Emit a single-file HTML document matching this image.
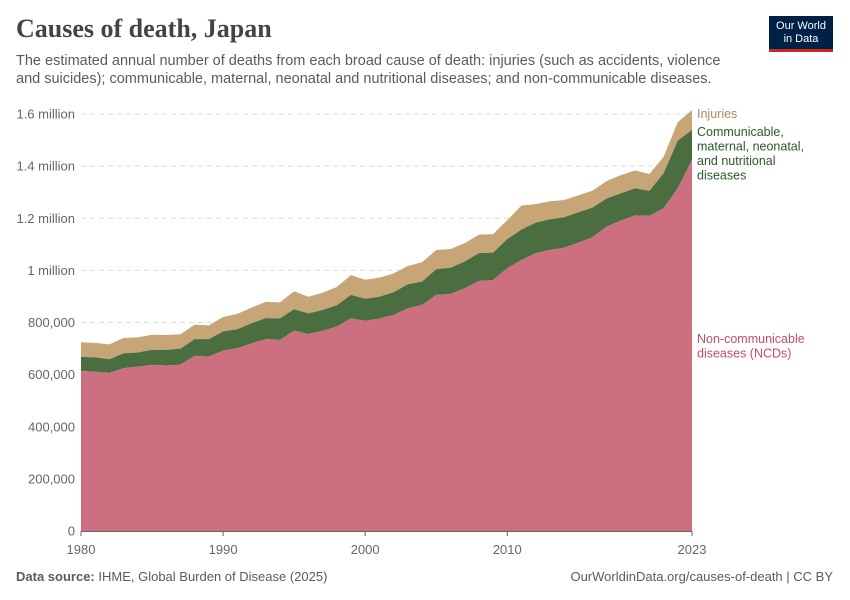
<!DOCTYPE html>
<html><head><meta charset="utf-8"><style>
body{margin:0;background:#fff;font-family:"Liberation Sans",sans-serif;}
#wrap{position:relative;width:850px;height:600px;overflow:hidden;}
.t{position:absolute;white-space:nowrap;}
</style></head><body>
<div id="wrap">
<div class="t" style="left:16px;top:14px;font-family:'Liberation Serif',serif;font-size:26px;font-weight:bold;color:#444;">Causes of death, Japan</div>
<div class="t" style="left:16px;top:52px;font-size:14.5px;line-height:18px;color:#5b5b5b;white-space:normal;width:720px;">The estimated annual number of deaths from each broad cause of death: injuries (such as accidents, violence and suicides); communicable, maternal, neonatal and nutritional diseases; and non-communicable diseases.</div>
<div style="position:absolute;left:769px;top:16px;width:64px;height:36px;background:#002147;border-bottom:3px solid #ce261e;box-sizing:border-box;color:#fff;font-size:11px;line-height:13px;text-align:center;padding-top:4px;">Our World<br>in Data</div>
<svg id="chart" width="850" height="600" style="position:absolute;left:0;top:0"></svg>
<div class="t" style="left:16px;top:569px;font-size:13px;color:#5b5b5b;"><b>Data source:</b> IHME, Global Burden of Disease (2025)</div>
<div class="t" style="right:17px;top:569px;font-size:13px;color:#5b5b5b;">OurWorldinData.org/causes-of-death | CC BY</div>
</div>
<script>
const years=[];for(let y=1980;y<=2023;y++)years.push(y);
const ncd=[614,611,606,625,630,637,635,638,672,669,692,701,720,736,733,769,756,768,784,816,806,815,829,854,867,906,909,931,959,963,1008,1040,1066,1078,1087,1106,1127,1168,1191,1211,1209,1238,1315,1424];
const communicable=[54,55,53,57,55,58,60,62,64,67,74,73,77,81,83,82,79,80,82,90,85,84,87,93,90,99,101,103,107,105,112,117,117,118,117,117,114,108,105,104,96,134,183,115];
const injuries=[56,56,57,59,58,58,57,55,56,53,55,59,60,62,61,69,64,66,70,76,73,73,72,70,74,73,72,70,71,71,73,92,71,69,66,65,65,67,70,68,65,64,71,76];
const yTicks=[0,200,400,600,800,1000,1200,1400,1600];
const yTickLabels=["0","200,000","400,000","600,000","800,000","1 million","1.2 million","1.4 million","1.6 million"];
const xTicks=[1980,1990,2000,2010,2023];

const svg=document.getElementById('chart');const NS='http://www.w3.org/2000/svg';
const x0=81,x1=692,yb=531,yt=114;
const X=y=>x0+(y-1980)/(2023-1980)*(x1-x0);
const Y=v=>yb-v/1600*(yb-yt);
function mk(tag,attrs){const e=document.createElementNS(NS,tag);for(const k in attrs)e.setAttribute(k,attrs[k]);svg.appendChild(e);return e;}
yTicks.forEach((v,i)=>{
 if(v>0){const l=mk('line',{x1:x0,x2:x1,y1:Y(v),y2:Y(v),stroke:'#ddd','stroke-dasharray':'5,4'});
 
 }
 const t=mk('text',{x:75,y:Y(v)+4.5,'text-anchor':'end','font-size':'13',fill:'#666','font-family':'Liberation Sans'});
 t.textContent=yTickLabels[i];
 
 
});
const s1=ncd, s2=ncd.map((v,i)=>v+communicable[i]), s3=s2.map((v,i)=>v+injuries[i]);
function area(lo,hi,color,name){
 let d='M'+years.map((y,i)=>X(y)+','+Y(hi[i])).join('L');
 for(let i=years.length-1;i>=0;i--)d+='L'+X(years[i])+','+Y(lo?lo[i]:0);
 const p=mk('path',{d:d+'Z',fill:color});
 
 
}
area(s2,s3,'#c8a577','area-injuries');
area(s1,s2,'#4a6e40','area-communicable');
area(null,s1,'#cc7081','area-ncd');
const base=mk('line',{x1:x0,x2:x1,y1:yb+0.5,y2:yb+0.5,stroke:'#666'});


xTicks.forEach(yr=>{
 const tk=mk('line',{x1:X(yr),x2:X(yr),y1:yb,y2:yb+5,stroke:'#666'});
 
 
 const t=mk('text',{x:X(yr),y:554,'text-anchor':'middle','font-size':'13',fill:'#666','font-family':'Liberation Sans'});
 t.textContent=yr;
 
 
});
function lab(lines,y,color,name){lines.forEach((s,i)=>{const t=mk('text',{x:697,y:y+i*14.5,'font-size':'12.5',fill:color,'font-family':'Liberation Sans'});t.textContent=s;
 
 });}
lab(['Injuries'],118,'#b08a5a','legend-injuries');
lab(['Communicable,','maternal, neonatal,','and nutritional','diseases'],136,'#2c5a28','legend-communicable');
lab(['Non-communicable','diseases (NCDs)'],343,'#c15065','legend-ncd');
</script>
</body></html>
